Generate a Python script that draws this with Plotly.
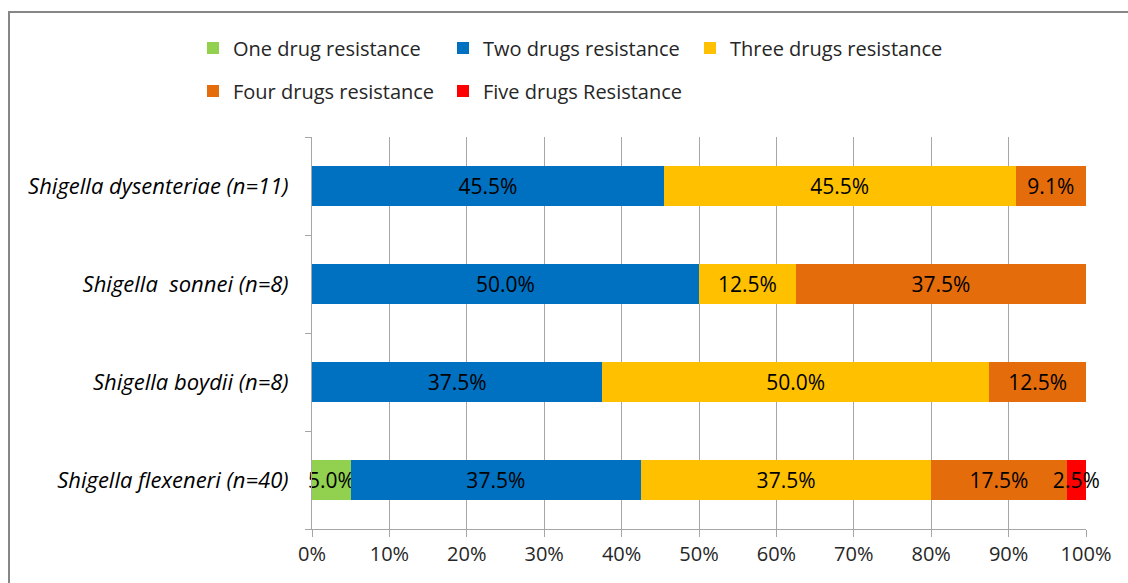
import plotly.graph_objects as go

# Species (top to bottom) and resistance share per number of drugs (%)
species = [
    "Shigella dysenteriae (n=11)",
    "Shigella\u00a0 sonnei (n=8)",
    "Shigella boydii (n=8)",
    "Shigella flexeneri (n=40)",
]
one_drug = [None, None, None, 5.0]
two_drugs = [45.5, 50.0, 37.5, 37.5]
three_drugs = [45.5, 12.5, 50.0, 37.5]
four_drugs = [9.1, 37.5, 12.5, 17.5]
five_drugs = [None, None, None, 2.5]

series_names = [
    "One drug resistance",
    "Two drugs resistance",
    "Three drugs resistance",
    "Four drugs resistance",
    "Five drugs Resistance",
]
series_values = [one_drug, two_drugs, three_drugs, four_drugs, five_drugs]
series_colors = ["#92D050", "#0070C0", "#FFC000", "#E46C0A", "#FF0000"]

x_ticks = list(range(0, 101, 10))
x_tick_labels = [f"{t}%" for t in x_ticks]

FONT = "'Open Sans', Lato, sans-serif"
W, H = 1128, 583
ML, MR, MT, MB = 312, 42, 137, 54
PW, PH = W - ML - MR, H - MT - MB


def px_to_paper_x(px):
    return (px - ML) / PW


def px_to_paper_y(py):
    return (H - MB - py) / PH


# one legend box per series, laid out in two rows (pixel anchor positions)
legend_ids = ["legend", "legend2", "legend3", "legend4", "legend5"]
legend_pos = [(193, 48), (443, 48), (690, 48), (193, 91), (443, 91)]

fig = go.Figure()
for name, vals, color, leg in zip(series_names, series_values, series_colors, legend_ids):
    fig.add_trace(
        go.Bar(
            name=name,
            y=species,
            x=vals,
            orientation="h",
            marker=dict(color=color, line=dict(width=0)),
            text=[f"{v:.1f}%" if v else "" for v in vals],
            textposition="inside",
            insidetextanchor="middle",
            textangle=0,
            constraintext="none",
            cliponaxis=False,
            textfont=dict(family=FONT, size=21, color="#000000"),
            legend=leg,
        )
    )

legend_layout = {}
for leg, (lx, ly) in zip(legend_ids, legend_pos):
    legend_layout[leg] = dict(
        x=px_to_paper_x(lx),
        y=px_to_paper_y(ly),
        orientation="h",
        xanchor="left",
        yanchor="middle",
        font=dict(family=FONT, size=20, color="#262626"),
        itemwidth=30,
        bgcolor="rgba(0,0,0,0)",
    )

fig.update_layout(
    width=W,
    height=H,
    margin=dict(l=ML, r=MR, t=MT, b=MB),
    paper_bgcolor="white",
    plot_bgcolor="white",
    barmode="stack",
    barnorm="percent",
    bargap=0.59,
    showlegend=True,
    xaxis=dict(
        range=[0, 100],
        tickvals=x_ticks,
        ticktext=x_tick_labels,
        showgrid=True,
        gridcolor="#A6A6A6",
        gridwidth=1,
        zeroline=False,
        showline=True,
        linecolor="#A6A6A6",
        linewidth=1,
        ticks="outside",
        ticklen=7,
        tickcolor="#A6A6A6",
        tickfont=dict(family=FONT, size=20, color="#262626"),
        fixedrange=True,
    ),
    yaxis=dict(
        categoryorder="array",
        categoryarray=species[::-1],
        showline=True,
        linecolor="#A6A6A6",
        linewidth=1,
        ticks="outside",
        tickson="boundaries",
        ticklen=6,
        tickcolor="#A6A6A6",
        ticklabelstandoff=18,
        tickfont=dict(family=FONT, size=22, color="#000000", style="italic"),
        showgrid=False,
        fixedrange=True,
    ),
    shapes=[
        # chart frame, running past the right and bottom edges
        dict(
            type="rect",
            xref="paper",
            yref="paper",
            x0=px_to_paper_x(9),
            x1=px_to_paper_x(1200),
            y0=px_to_paper_y(640),
            y1=px_to_paper_y(12),
            line=dict(color="#868686", width=2),
            fillcolor="rgba(0,0,0,0)",
            layer="below",
        )
    ],
    **legend_layout,
)

fig.write_html("out.html")
